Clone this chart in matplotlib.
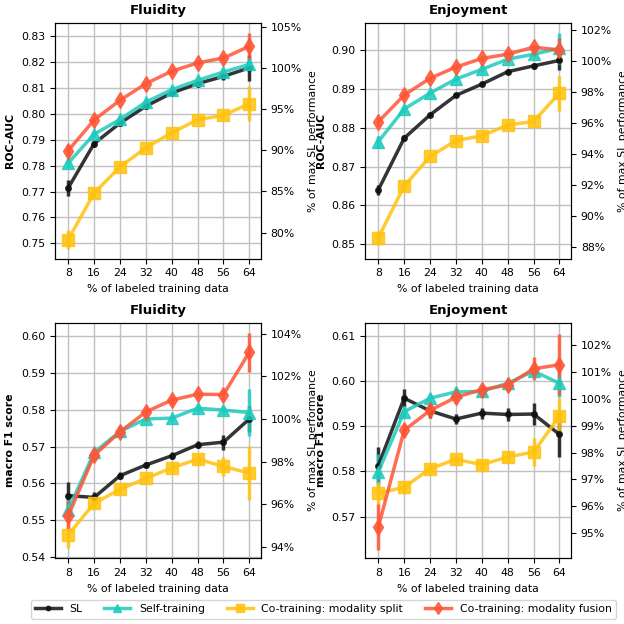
import numpy as np
import matplotlib
matplotlib.use('Agg')
import matplotlib.pyplot as plt
from matplotlib.ticker import FuncFormatter

# x axis: percentage of labeled training data
labeled = [8, 16, 24, 32, 40, 48, 56, 64]

# Fluidity - ROC-AUC
flu_auc_sl = [0.7714, 0.7885, 0.7964, 0.8029, 0.8080, 0.8116, 0.8144, 0.8177]
flu_auc_sl_err = [0.003, 0.0015, 0.001, 0.001, 0.001, 0.001, 0.0015, 0.005]
flu_auc_st = [0.7810, 0.7921, 0.7978, 0.8045, 0.8093, 0.8129, 0.8161, 0.8190]
flu_auc_st_err = [0.0015, 0.001, 0.001, 0.001, 0.001, 0.001, 0.001, 0.002]
flu_auc_split = [0.7515, 0.7694, 0.7795, 0.7869, 0.7927, 0.7977, 0.7994, 0.8039]
flu_auc_split_err = [0.0035, 0.0015, 0.001, 0.001, 0.001, 0.001, 0.0015, 0.0067]
flu_auc_fusion = [0.7858, 0.7976, 0.8052, 0.8116, 0.8164, 0.8196, 0.8215, 0.8260]
flu_auc_fusion_err = [0.002, 0.001, 0.001, 0.001, 0.001, 0.001, 0.001, 0.005]

# Enjoyment - ROC-AUC
enj_auc_sl = [0.8640, 0.8773, 0.8833, 0.8883, 0.8912, 0.8944, 0.8959, 0.8973]
enj_auc_sl_err = [0.0012, 0.0008, 0.0005, 0.0005, 0.0005, 0.0006, 0.0008, 0.0025]
enj_auc_st = [0.8764, 0.8848, 0.8889, 0.8925, 0.8950, 0.8976, 0.8989, 0.9004]
enj_auc_st_err = [0.0015, 0.0008, 0.0006, 0.0006, 0.0006, 0.0006, 0.0006, 0.004]
enj_auc_split = [0.8517, 0.8650, 0.8726, 0.8767, 0.8779, 0.8807, 0.8816, 0.8889]
enj_auc_split_err = [0.0018, 0.0012, 0.0008, 0.0008, 0.0008, 0.0008, 0.0012, 0.0045]
enj_auc_fusion = [0.8815, 0.8884, 0.8927, 0.8956, 0.8978, 0.8989, 0.9007, 0.9000]
enj_auc_fusion_err = [0.001, 0.0008, 0.0006, 0.0006, 0.0006, 0.0006, 0.0006, 0.003]

# Fluidity - macro F1
flu_f1_sl = [0.5567, 0.5562, 0.5621, 0.5650, 0.5675, 0.5705, 0.5712, 0.5775]
flu_f1_sl_err = [0.0038, 0.0015, 0.001, 0.0008, 0.001, 0.001, 0.002, 0.0035]
flu_f1_st = [0.5528, 0.5684, 0.5741, 0.5775, 0.5777, 0.5804, 0.5799, 0.5792]
flu_f1_st_err = [0.003, 0.001, 0.001, 0.0008, 0.0008, 0.001, 0.001, 0.0064]
flu_f1_split = [0.5461, 0.5546, 0.5584, 0.5614, 0.5642, 0.5666, 0.5646, 0.5628]
flu_f1_split_err = [0.0035, 0.0015, 0.001, 0.001, 0.001, 0.0012, 0.0025, 0.0073]
flu_f1_fusion = [0.5512, 0.5676, 0.5740, 0.5794, 0.5826, 0.5842, 0.5841, 0.5956]
flu_f1_fusion_err = [0.004, 0.0012, 0.001, 0.001, 0.001, 0.001, 0.0012, 0.0053]

# Enjoyment - macro F1
enj_f1_sl = [0.5813, 0.5962, 0.5934, 0.5916, 0.5929, 0.5926, 0.5927, 0.5882]
enj_f1_sl_err = [0.004, 0.002, 0.0015, 0.0012, 0.0012, 0.0015, 0.0025, 0.005]
enj_f1_st = [0.5799, 0.5932, 0.5962, 0.5976, 0.5977, 0.5995, 0.6022, 0.5995]
enj_f1_st_err = [0.004, 0.0012, 0.001, 0.001, 0.001, 0.001, 0.001, 0.003]
enj_f1_split = [0.5752, 0.5765, 0.5806, 0.5827, 0.5815, 0.5832, 0.5843, 0.5922]
enj_f1_split_err = [0.0025, 0.0015, 0.001, 0.001, 0.001, 0.0012, 0.003, 0.004]
enj_f1_fusion = [0.5677, 0.5891, 0.5935, 0.5964, 0.5981, 0.5991, 0.6027, 0.6036]
enj_f1_fusion_err = [0.005, 0.0015, 0.001, 0.001, 0.001, 0.0012, 0.0025, 0.0068]

method_names = ['SL', 'Self-training', 'Co-training: modality split', 'Co-training: modality fusion']
colors = ['#111111', '#1ecbbd', '#ffc20e', '#ff5536']
markers = ['o', '^', 's', 'd']
msizes = [4, 8, 8, 8]

panels = [
    ('Fluidity', 'ROC-AUC',
     [(flu_auc_sl, flu_auc_sl_err), (flu_auc_st, flu_auc_st_err),
      (flu_auc_split, flu_auc_split_err), (flu_auc_fusion, flu_auc_fusion_err)],
     (0.7441, 0.8351), np.arange(0.75, 0.8351, 0.01),
     (76.84, 105.49), [80, 85, 90, 95, 100, 105]),
    ('Enjoyment', 'ROC-AUC',
     [(enj_auc_sl, enj_auc_sl_err), (enj_auc_st, enj_auc_st_err),
      (enj_auc_split, enj_auc_split_err), (enj_auc_fusion, enj_auc_fusion_err)],
     (0.8463, 0.9070), np.arange(0.85, 0.9051, 0.01),
     (87.22, 102.47), [88, 90, 92, 94, 96, 98, 100, 102]),
    ('Fluidity', 'macro F1 score',
     [(flu_f1_sl, flu_f1_sl_err), (flu_f1_st, flu_f1_st_err),
      (flu_f1_split, flu_f1_split_err), (flu_f1_fusion, flu_f1_fusion_err)],
     (0.5397, 0.6036), np.arange(0.54, 0.6051, 0.01),
     (93.45, 104.53), [94, 96, 98, 100, 102, 104]),
    ('Enjoyment', 'macro F1 score',
     [(enj_f1_sl, enj_f1_sl_err), (enj_f1_st, enj_f1_st_err),
      (enj_f1_split, enj_f1_split_err), (enj_f1_fusion, enj_f1_fusion_err)],
     (0.5608, 0.6129), np.arange(0.57, 0.6151, 0.01),
     (94.07, 102.83), [95, 96, 97, 98, 99, 100, 101, 102]),
]

fs = 7.8
fig = plt.figure(figsize=(6.24, 6.24), dpi=100)
positions = [
    [0.0881, 0.5854, 0.3302, 0.3782],
    [0.5850, 0.5854, 0.3302, 0.3782],
    [0.0881, 0.1053, 0.3302, 0.3776],
    [0.5850, 0.1053, 0.3302, 0.3776],
]

for pos, (title, ylab, series, ylim, yticks, rlim, rticks) in zip(positions, panels):
    ax = fig.add_axes(pos)
    ax.grid(True, color='#c0c0c0', linewidth=1.0)
    ax.set_axisbelow(True)
    for (vals, err), c, m, ms in zip(series, colors, markers, msizes):
        ax.errorbar(labeled, vals, yerr=err, color=c, marker=m, markersize=ms,
                    linewidth=2.5, elinewidth=2.5, capsize=0, alpha=0.85)
    ax.set_xlim(3.9, 67.6)
    ax.set_xticks(labeled)
    ax.set_ylim(*ylim)
    ax.set_yticks(yticks)
    ax.yaxis.set_major_formatter(FuncFormatter(lambda v, p: '%.2f' % v))
    ax.tick_params(labelsize=fs)
    ax.set_title(title, fontsize=9.5, fontweight='bold')
    ax.set_ylabel(ylab, fontsize=fs, fontweight='bold')
    ax.set_xlabel('% of labeled training data', fontsize=fs)

    ax2 = ax.twinx()
    ax2.set_ylim(*rlim)
    ax2.set_yticks(rticks)
    ax2.yaxis.set_major_formatter(FuncFormatter(lambda v, p: '%d%%' % v))
    ax2.tick_params(labelsize=fs)
    ax2.set_ylabel('% of max SL performance', fontsize=fs)

handles = [plt.Line2D([], [], color=c, marker=m, markersize=ms * 0.8, linewidth=2.5, alpha=0.85)
           for c, m, ms in zip(colors, markers, msizes)]
fig.legend(handles, method_names, loc='lower center', bbox_to_anchor=(0.518, 0.0),
           ncol=4, fontsize=fs, handlelength=2.4, columnspacing=2.0)

fig.savefig('out.png', dpi=100)
